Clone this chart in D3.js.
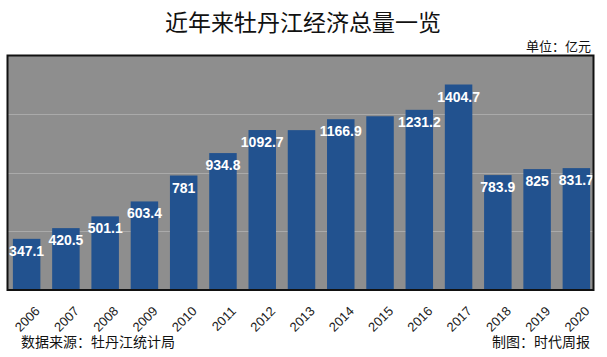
<!DOCTYPE html>
<html><head><meta charset="utf-8">
<script src="https://cdn.jsdelivr.net/npm/d3@7"></script>
<style>
body{margin:0;background:#fff;}
svg{display:block;}
</style></head>
<body>
<script>
const years = ["2006","2007","2008","2009","2010","2011","2012","2013","2014","2015","2016","2017","2018","2019","2020"];
const values = [347.1,420.5,501.1,603.4,781,934.8,1092.7,1092,1166.9,1187,1231.2,1404.7,783.9,825,831.7];
const valueLabels = ["347.1","420.5","501.1","603.4","781","934.8","1092.7","","1166.9","","1231.2","1404.7","783.9","825","831.7"];
const gridTicks = [400,800,1200];

const W=607,H=357;
const svg=d3.select("body").append("svg").attr("width",W).attr("height",H);
const cjk="'Noto Sans CJK SC','Noto Sans',sans-serif";
const latin="'Liberation Sans',Arial,sans-serif";

svg.append("text").attr("x",303).attr("y",31).attr("text-anchor","middle")
  .attr("font-family",cjk).attr("font-size",23).attr("fill","#111").text("近年来牡丹江经济总量一览");
svg.append("text").attr("x",591).attr("y",51).attr("text-anchor","end")
  .attr("font-family",cjk).attr("font-size",13).attr("fill","#111").text("单位：亿元");

const x=d3.scaleBand().domain(years).range([7,596]).paddingInner(0.3).paddingOuter(0.15);
const y=d3.scaleLinear().domain([0,1600]).range([289.5,56]);

svg.append("rect").attr("x",7.5).attr("y",55.5).attr("width",586).attr("height",234.5).attr("fill","#8e8e8e");
svg.append("g").selectAll("line").data(gridTicks).join("line")
  .attr("x1",8).attr("x2",593).attr("y1",d=>Math.round(y(d))+0.5).attr("y2",d=>Math.round(y(d))+0.5)
  .attr("stroke","#aaaaaa").attr("stroke-width",1);

const g=svg.append("g");
g.selectAll("rect").data(years).join("rect")
  .attr("x",d=>x(d)).attr("width",x.bandwidth())
  .attr("y",(d,i)=>y(values[i])).attr("height",(d,i)=>y(0)-y(values[i]))
  .attr("fill","#22528f");

g.selectAll("text").data(years).join("text")
  .attr("x",d=>x(d)+x.bandwidth()/2).attr("y",(d,i)=>y(values[i])+17)
  .attr("text-anchor","middle").attr("font-family",latin).attr("font-size",14).attr("font-weight","bold")
  .attr("fill","#fff").text((d,i)=>valueLabels[i]);

svg.append("rect").attr("x",7.5).attr("y",55.5).attr("width",586).attr("height",234.5)
  .attr("fill","none").attr("stroke","#111").attr("stroke-width",2);

const ax=svg.append("g").attr("transform","translate(0,290)")
  .call(d3.axisBottom(x).tickSize(0).tickPadding(0));
ax.select(".domain").remove();
ax.selectAll("text").attr("font-family",latin).attr("font-size",13).attr("fill","#222")
  .attr("text-anchor","end").attr("dy",0).attr("y",0)
  .attr("transform","translate(14,22) rotate(-45)");

svg.append("text").attr("x",21).attr("y",347).attr("font-family",cjk).attr("font-size",14).attr("fill","#111").text("数据来源：牡丹江统计局");
svg.append("text").attr("x",590).attr("y",347).attr("text-anchor","end").attr("font-family",cjk).attr("font-size",14).attr("fill","#111").text("制图：时代周报");
</script>
</body></html>
